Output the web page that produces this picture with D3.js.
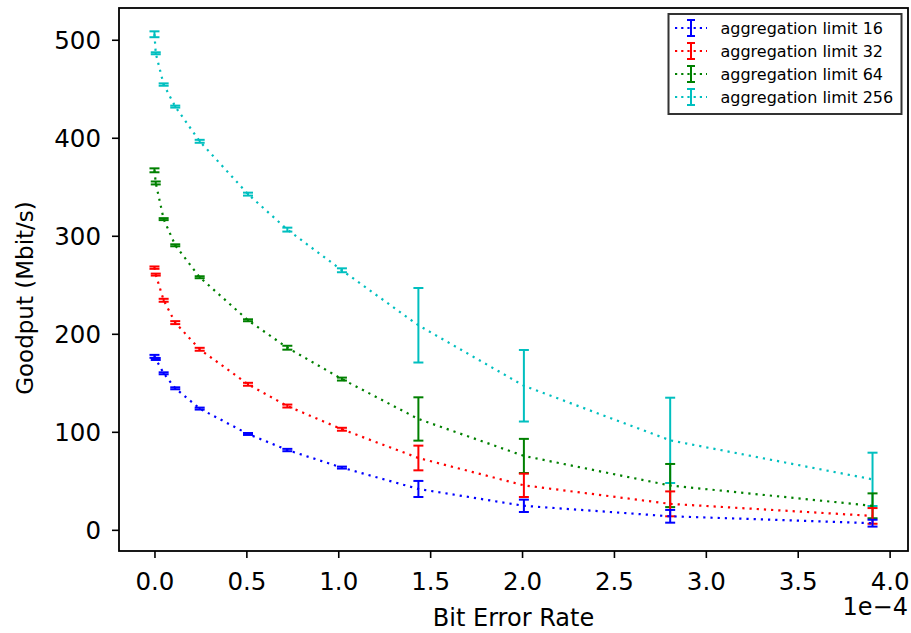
<!DOCTYPE html>
<html>
<head>
<meta charset="utf-8">
<script src="https://cdn.jsdelivr.net/npm/d3@7"></script>
<style>
  html, body { margin: 0; padding: 0; background: #fff; }
  svg { display: block; font-family: "DejaVu Sans", sans-serif; }
</style>
</head>
<body>
<svg id="chart" width="911" height="633"></svg>
<script>
// Bit error rate, in units of 1e-4
const ber = [0, 0.007, 0.05, 0.113, 0.246, 0.509, 0.723, 1.02, 1.436, 2.01, 2.806, 3.907];

// Mean goodput (Mbit/s) per aggregation limit
const goodput16  = [177.0, 174.3, 159.7, 144.4, 123.7, 97.8, 81.4, 63.5, 41.7, 24.5, 13.8, 6.8];
const goodput32  = [267.5, 260.4, 234.2, 211.4, 184.2, 148.5, 126.3, 102.6, 73.3, 45.4, 26.5, 14.2];
const goodput64  = [366.8, 353.9, 317.0, 290.3, 257.7, 213.8, 185.8, 153.8, 113.1, 75.4, 45.2, 24.5];
const goodput256 = [505.6, 486.2, 454.3, 431.8, 396.4, 342.5, 306.3, 264.8, 208.7, 147.0, 91.3, 51.5];

// Error bar half-widths (Mbit/s)
const err16  = [1.5, 1.0, 1.0, 1.0, 1.0, 1.0, 1.2, 1.0, 8.2, 6.3, 6.5, 3.5];
const err32  = [1.2, 1.0, 1.5, 1.5, 1.5, 1.5, 1.5, 1.5, 12.6, 11.9, 12.7, 8.0];
const err64  = [2.0, 1.5, 1.0, 1.0, 1.0, 1.0, 2.0, 1.5, 22.1, 17.4, 22.0, 12.7];
const err256 = [3.0, 1.0, 1.2, 1.0, 1.5, 1.5, 2.0, 2.0, 38.0, 36.5, 43.5, 27.2];

const seriesNames  = ["aggregation limit 16", "aggregation limit 32", "aggregation limit 64", "aggregation limit 256"];
const seriesColors = ["#0000ff", "#ff0000", "#008000", "#00bfbf"];

const xTicks = [0, 0.5, 1.0, 1.5, 2.0, 2.5, 3.0, 3.5, 4.0];
const xTickLabels = ["0.0", "0.5", "1.0", "1.5", "2.0", "2.5", "3.0", "3.5", "4.0"];
const yTicks = [0, 100, 200, 300, 400, 500];

const series = [
  { name: seriesNames[0], color: seriesColors[0], y: goodput16,  e: err16 },
  { name: seriesNames[1], color: seriesColors[1], y: goodput32,  e: err32 },
  { name: seriesNames[2], color: seriesColors[2], y: goodput64,  e: err64 },
  { name: seriesNames[3], color: seriesColors[3], y: goodput256, e: err256 }
];

const svg = d3.select("#chart");
const plotL = 119, plotR = 908, plotT = 8, plotB = 551;

const x = d3.scaleLinear().domain([-0.193, 4.10]).range([plotL, plotR]);
const y = d3.scaleLinear().domain([-21.6, 532.4]).range([plotB, plotT]);

const plot = svg.append("g");
const capHalf = 5;
const dotted = "2.2,5";

// Draw the highest limit first so lower ones sit on top
series.slice().reverse().forEach(s => {
  const pts = ber.map((b, i) => ({ x: b, y: s.y[i], e: s.e[i] }));
  const line = d3.line().x(d => x(d.x)).y(d => y(d.y));
  plot.append("path")
    .attr("d", line(pts))
    .attr("fill", "none")
    .attr("stroke", s.color)
    .attr("stroke-width", 2.2)
    .attr("stroke-dasharray", dotted);

  const bars = plot.append("g").attr("stroke", s.color).attr("stroke-width", 2);
  pts.forEach(d => {
    const cx = x(d.x), y0 = y(d.y - d.e), y1 = y(d.y + d.e);
    bars.append("line").attr("x1", cx).attr("x2", cx).attr("y1", y0).attr("y2", y1);
    bars.append("line").attr("x1", cx - capHalf).attr("x2", cx + capHalf).attr("y1", y0).attr("y2", y0);
    bars.append("line").attr("x1", cx - capHalf).attr("x2", cx + capHalf).attr("y1", y1).attr("y2", y1);
  });
});

// Axes
const xAxis = d3.axisBottom(x).tickValues(xTicks)
  .tickFormat((d, i) => xTickLabels[i]).tickSizeInner(7).tickSizeOuter(0).tickPadding(6);
const yAxis = d3.axisLeft(y).tickValues(yTicks)
  .tickFormat(d3.format("d")).tickSizeInner(7).tickSizeOuter(0).tickPadding(11);

const gx = svg.append("g").attr("transform", `translate(0,${plotB})`).call(xAxis);
const gy = svg.append("g").attr("transform", `translate(${plotL},0)`).call(yAxis);
[gx, gy].forEach(g => {
  g.select(".domain").remove();
  g.selectAll(".tick line").attr("stroke", "#000").attr("stroke-width", 1.6);
  g.selectAll(".tick text").attr("fill", "#000").attr("font-size", 24.5)
    .attr("font-family", "DejaVu Sans, sans-serif");
});
gx.selectAll(".tick text").attr("dy", null).attr("y", 39);
gy.selectAll(".tick text").attr("dy", "0.36em");

// Frame
svg.append("rect")
  .attr("x", plotL).attr("y", plotT)
  .attr("width", plotR - plotL).attr("height", plotB - plotT)
  .attr("fill", "none").attr("stroke", "#000").attr("stroke-width", 1.8);

// Axis labels
svg.append("text")
  .attr("x", (plotL + plotR) / 2).attr("y", 626)
  .attr("text-anchor", "middle").attr("font-size", 24)
  .text("Bit Error Rate");
svg.append("text")
  .attr("x", plotR).attr("y", 615)
  .attr("text-anchor", "end").attr("font-size", 24)
  .text("1e\u22124");
svg.append("text")
  .attr("transform", "translate(33,298) rotate(-90)")
  .attr("text-anchor", "middle").attr("font-size", 23)
  .text("Goodput (Mbit/s)");

// Legend
const lg = svg.append("g");
lg.append("rect")
  .attr("x", 668.5).attr("y", 14).attr("width", 233).attr("height", 100)
  .attr("fill", "#fff").attr("stroke", "#333").attr("stroke-width", 2);
series.forEach((s, i) => {
  const cy = 28 + i * 23;
  lg.append("line").attr("x1", 675).attr("x2", 707).attr("y1", cy).attr("y2", cy)
    .attr("stroke", s.color).attr("stroke-width", 2.2).attr("stroke-dasharray", "2.2,4");
  const g = lg.append("g").attr("stroke", s.color).attr("stroke-width", 2);
  g.append("line").attr("x1", 691).attr("x2", 691).attr("y1", cy - 8).attr("y2", cy + 8);
  g.append("line").attr("x1", 687).attr("x2", 695).attr("y1", cy - 8).attr("y2", cy - 8);
  g.append("line").attr("x1", 687).attr("x2", 695).attr("y1", cy + 8).attr("y2", cy + 8);
  lg.append("text").attr("x", 720.5).attr("y", cy).attr("dy", "0.36em")
    .attr("font-size", 16).attr("fill", "#000").text(s.name);
});
</script>
</body>
</html>
